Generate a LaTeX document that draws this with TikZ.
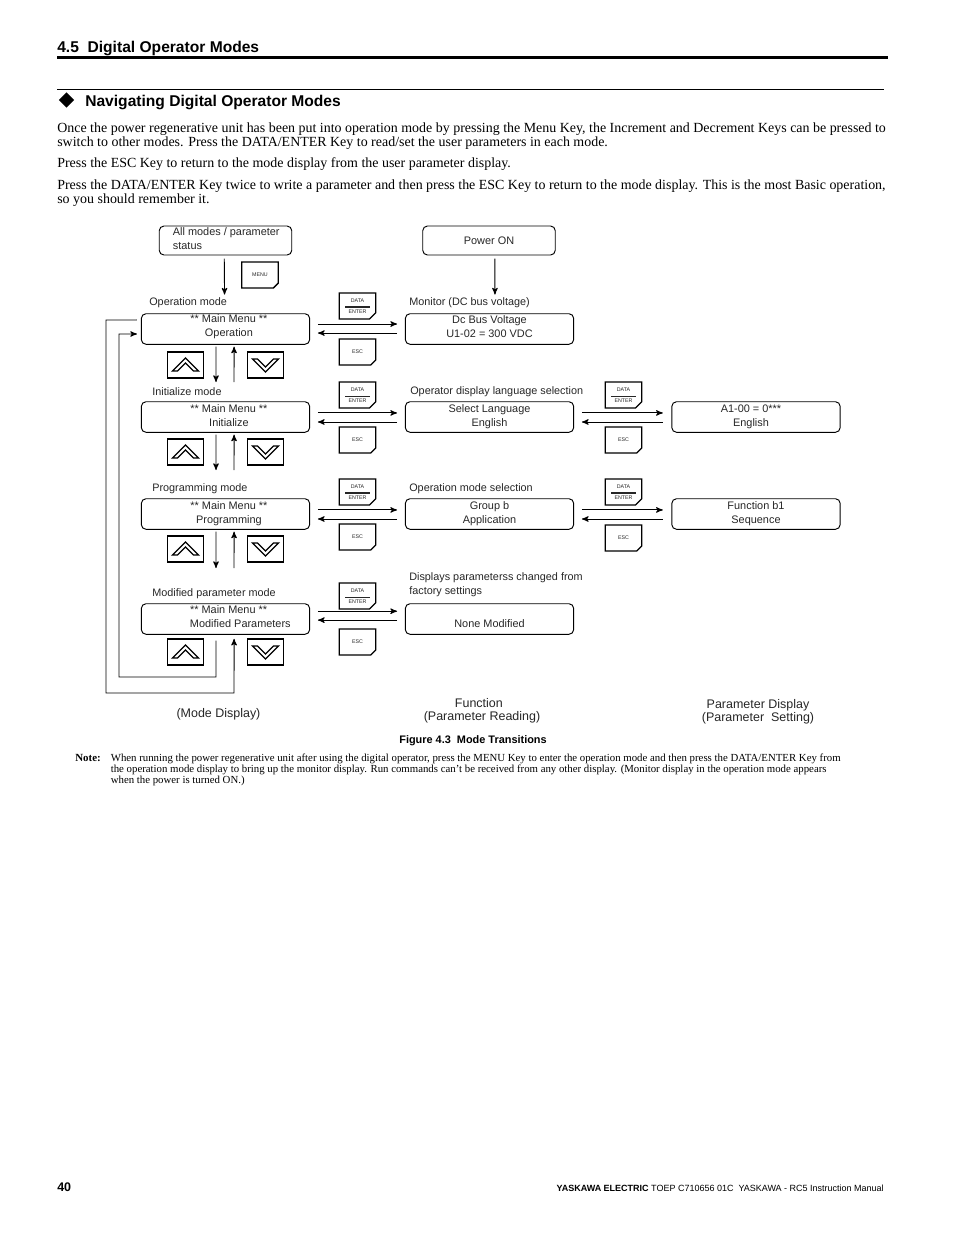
\documentclass[tikz,border=0pt]{standalone}
\usepackage{fontspec}
\setmainfont{Liberation Serif}
\setsansfont{Liberation Sans}
\usepackage{tikz}
\usetikzlibrary{%
  arrows,%
  calc,%
  shapes.geometric,%
  shapes.misc,%
  positioning}

\tikzset{
  flow/.style={->,>=stealth',line width=.6pt},
  dispbox/.style={rectangle,rounded corners=3pt,draw,line width=.6pt,minimum width=108pt,minimum height=19.6pt,inner sep=0pt},
  topbox/.style={dispbox,minimum width=85pt,minimum height=18.6pt},
  disptext/.style={font=\sffamily\fontsize{7}{9}\selectfont,align=center,text=black!85,inner sep=0pt},
  modetext/.style={font=\sffamily\fontsize{6.95}{9}\selectfont,align=left,anchor=west,inner sep=0pt,text=black!85},
  captext/.style={font=\sffamily\fontsize{8}{8.6}\selectfont,align=center,inner sep=0pt,text=black!85},
  keybox/.style={chamfered rectangle,chamfered rectangle corners=south east,chamfered rectangle sep=2pt,draw,line width=.8pt,minimum width=23.5pt,minimum height=16.7pt,inner sep=0pt,font=\sffamily\fontsize{3.4}{4}\selectfont,align=center,text=black!85},
  chevron/.style={draw,line width=.8pt},
  parline/.style={font=\fontsize{8.95}{9}\selectfont,align=left,anchor=north west,inner sep=0pt},
}
\newcommand{\dataenter}[1][.5pt]{DATA\\[-.4pt]\rule{16pt}{#1}\\[-.2pt]ENTER}
\newcommand{\upchevron}[1]{\draw[chevron] ([shift={(-13,6)}]#1.center) -- ([shift={(0,-7)}]#1.center) -- ([shift={(13,6)}]#1.center) -- ([shift={(8,6)}]#1.center) -- ([shift={(0,-2)}]#1.center) -- ([shift={(-8,6)}]#1.center) -- cycle;}
\newcommand{\downchevron}[1]{\draw[chevron] ([shift={(-13,-6)}]#1.center) -- ([shift={(0,7)}]#1.center) -- ([shift={(13,-6)}]#1.center) -- ([shift={(8,-6)}]#1.center) -- ([shift={(0,2)}]#1.center) -- ([shift={(-8,-6)}]#1.center) -- cycle;}

\begin{document}
\begin{tikzpicture}[x=0.6415pt,y=-0.6415pt]
\useasboundingbox (0,0) rectangle (954,1235);
% page head
\node (head) at (57,48) [anchor=west,inner sep=0pt,font=\sffamily\bfseries\fontsize{10}{12}\selectfont] {4.5\ \ Digital Operator Modes};
\coordinate (headl) at (57,57.5);
\coordinate (headr) at (888,57.5);
\draw[line width=2pt] (headl) -- (headr);
\coordinate (subl) at (57,89);
\coordinate (subr) at (884,89);
\draw[line width=.5pt] (subl) -- (subr);
\node (mark) at (66.5,100) [diamond,fill=black,minimum width=10pt,minimum height=10pt,inner sep=0pt] {};
\node (sub) at (85,102) [anchor=west,inner sep=0pt,font=\sffamily\bfseries\fontsize{10}{12}\selectfont] {Navigating Digital Operator Modes};
% paragraphs
\node (p1) at (57,122) [parline] {Once the power regenerative unit has been put into operation mode by pressing the Menu Key, the Increment and Decrement Keys can be pressed to\\switch to other modes. Press the DATA/ENTER Key to read/set the user parameters in each mode.};
\node (p2) at (57,157) [parline] {Press the ESC Key to return to the mode display from the user parameter display.};
\node (p3) at (57,179) [parline] {Press the DATA/ENTER Key twice to write a parameter and then press the ESC Key to return to the mode display. This is the most Basic operation,\\so you should remember it.};
% top row
\node (all) at (225.5,240.5) [topbox,label={[disptext,align=left,xshift=.5pt,yshift=1pt]center:{All modes / parameter\\status}}] {};
\node (pwr) at (489,240.5) [topbox,label={[disptext]center:Power ON}] {};
\node (kmenu) at (260,275) [keybox] {MENU};
% mode column
\node (op) at (225.5,329) [dispbox,label={[disptext,xshift=2.2pt,yshift=1.4pt]center:{** Main Menu **\\Operation}}] {};
\node (in) at (225.5,417) [dispbox,label={[disptext,xshift=2.2pt,yshift=.7pt]center:{** Main Menu **\\Initialize}}] {};
\node (pr) at (225.5,514) [dispbox,label={[disptext,xshift=2.2pt,yshift=.1pt]center:{** Main Menu **\\Programming}}] {};
\node (mo) at (225.5,619) [dispbox,label={[disptext,xshift=9.5pt,yshift=1.4pt]center:{\hspace*{-15pt}** Main Menu **\\Modified Parameters}}] {};
\node at (149,302.5) [modetext] (lop) {Operation mode};
\node at (152,391.5) [modetext] (lin) {Initialize mode};
\node at (152,488.5) [modetext] (lpr) {Programming mode};
\node at (152,593.5) [modetext] (lmo) {Modified parameter mode};
% function column
\node (mon) at (489.5,329) [dispbox,label={[disptext,yshift=1.4pt]center:{Dc Bus Voltage\\U1-02 = 300 VDC}}] {};
\node (sel) at (489.5,417) [dispbox,label={[disptext,yshift=.1pt]center:{Select Language\\English}}] {};
\node (grp) at (489.5,514) [dispbox,label={[disptext,yshift=.1pt]center:{Group b\\Application}}] {};
\node (non) at (489.5,619) [dispbox,label={[disptext,yshift=-3pt]center:None Modified}] {};
\node at (409,302.5) [modetext] (lmon) {Monitor (DC bus voltage)};
\node at (410,391.5) [modetext] (lsel) {Operator display language selection};
\node at (409,488.5) [modetext] (lgrp) {Operation mode selection};
\node at (409,584.5) [modetext] (lnon) {Displays parameterss changed from\\factory settings};
% parameter column
\node (par1) at (756,417) [dispbox,label={[disptext,xshift=-3.2pt,yshift=.1pt]center:{A1-00 = 0***\\English}}] {};
\node (par2) at (756,514) [dispbox,label={[disptext,yshift=.1pt]center:{Function b1\\Sequence}}] {};
% keys
\node (d1) at (357.5,306) [keybox] {\dataenter[.9pt]};
\node (e1) at (357.5,352) [keybox] {ESC};
\node (d2) at (357.5,395) [keybox] {\dataenter};
\node (e2) at (357.5,440) [keybox] {ESC};
\node (d3) at (357.5,492) [keybox] {\dataenter[.9pt]};
\node (e3) at (357.5,537) [keybox] {ESC};
\node (d4) at (357.5,596) [keybox] {\dataenter};
\node (e4) at (357.5,642) [keybox] {ESC};
\node (d5) at (623.5,395) [keybox] {\dataenter};
\node (e5) at (623.5,440) [keybox] {ESC};
\node (d6) at (623.5,492) [keybox] {\dataenter[.9pt]};
\node (e6) at (623.5,538) [keybox] {ESC};
% arrow keys
\node (u1) at (185.5,365) [keybox] {};
\node (v1) at (265.5,365) [keybox] {};
\node (u2) at (185.5,452) [keybox] {};
\node (v2) at (265.5,452) [keybox] {};
\node (u3) at (185.5,549) [keybox] {};
\node (v3) at (265.5,549) [keybox] {};
\node (u4) at (185.5,652) [keybox] {};
\node (v4) at (265.5,652) [keybox] {};
\upchevron{u1} \upchevron{u2} \upchevron{u3} \upchevron{u4}
\downchevron{v1} \downchevron{v2} \downchevron{v3} \downchevron{v4}
% top arrows
\draw[flow] ([xshift=-.8pt,yshift=-2pt]all.south) -- ([xshift=-.6pt,yshift=12pt]op.north);
\draw[flow] ([xshift=3.8pt,yshift=-2pt]pwr.south) -- ([xshift=3.5pt,yshift=12pt]mon.north);
% mode to mode
\coordinate (a1) at (216,382);
\coordinate (b1) at (234,382);
\draw[flow] ([xshift=-6.1pt,yshift=-1.2pt]op.south) -- (a1);
\draw[flow] (b1) -- ([xshift=5.5pt,yshift=-1.2pt]op.south);
\coordinate (a2) at (216,470);
\coordinate (b2) at (234,470);
\draw[flow] ([xshift=-6.1pt,yshift=-1.2pt]in.south) -- (a2);
\draw[flow] (b2) -- ([xshift=5.5pt,yshift=-1.2pt]in.south);
\coordinate (a3) at (216,568);
\coordinate (b3) at (234,568);
\draw[flow] ([xshift=-6.1pt,yshift=-1.2pt]pr.south) -- (a3);
\draw[flow] (b3) -- ([xshift=5.5pt,yshift=-1.2pt]pr.south);
% return lines
\coordinate (r1) at (216,677);
\coordinate (r2) at (119,677);
\coordinate (r3) at (119,334);
\draw[flow] ([xshift=-6.1pt,yshift=-3.8pt]mo.south) -- (r1) -- (r2) -- (r3) -- ([xshift=-2.5pt,yshift=-3.2pt]op.west);
\coordinate (s1) at (106,320);
\coordinate (s2) at (106,693);
\coordinate (s3) at (234,693);
\draw[flow] ([xshift=-2.5pt,yshift=5.8pt]op.west) -- (s1) -- (s2) -- (s3) -- ([xshift=5.5pt,yshift=-2.6pt]mo.south);
% across
\draw[flow] ([xshift=5pt,yshift=3.2pt]op.east) -- ([xshift=-5pt,yshift=3.2pt]mon.west);
\draw[flow] ([xshift=-5pt,yshift=-2.6pt]mon.west) -- ([xshift=5pt,yshift=-2.6pt]op.east);
\draw[flow] ([xshift=5pt,yshift=2.6pt]in.east) -- ([xshift=-5pt,yshift=2.6pt]sel.west);
\draw[flow] ([xshift=-5pt,yshift=-3.2pt]sel.west) -- ([xshift=5pt,yshift=-3.2pt]in.east);
\draw[flow] ([xshift=5pt,yshift=2.6pt]pr.east) -- ([xshift=-5pt,yshift=2.6pt]grp.west);
\draw[flow] ([xshift=-5pt,yshift=-3.2pt]grp.west) -- ([xshift=5pt,yshift=-3.2pt]pr.east);
\draw[flow] ([xshift=5pt,yshift=5pt]mo.east) -- ([xshift=-5pt,yshift=5pt]non.west);
\draw[flow] ([xshift=-5pt,yshift=-.7pt]non.west) -- ([xshift=5pt,yshift=-.7pt]mo.east);
\draw[flow] ([xshift=5pt,yshift=2.6pt]sel.east) -- ([xshift=-5.5pt,yshift=2.6pt]par1.west);
\draw[flow] ([xshift=-5.5pt,yshift=-3.2pt]par1.west) -- ([xshift=5pt,yshift=-3.2pt]sel.east);
\draw[flow] ([xshift=5pt,yshift=2.6pt]grp.east) -- ([xshift=-5.5pt,yshift=2.6pt]par2.west);
\draw[flow] ([xshift=-5.5pt,yshift=-3.2pt]par2.west) -- ([xshift=5pt,yshift=-3.2pt]grp.east);
% captions
\node (c1) at (218.5,714) [captext] {(Mode Display)};
\node (c2) at (482,711) [captext] {\hspace*{-4pt}Function\\(Parameter Reading)};
\node (c3) at (758,711.5) [captext] {Parameter Display\\(Parameter\ \ Setting)};
\node (fig) at (473,740.5) [inner sep=0pt,font=\sffamily\bfseries\fontsize{7}{9}\selectfont] {Figure 4.3\ \ Mode Transitions};
% note
\node (nt) at (75,754) [anchor=north west,inner sep=0pt,font=\bfseries\fontsize{7}{7}\selectfont] {Note:};
\node (ntx) at (110.5,754) [anchor=north west,inner sep=0pt,align=left,font=\fontsize{6.93}{7}\selectfont] {When running the power regenerative unit after using the digital operator, press the MENU Key to enter the operation mode and then press the DATA/ENTER Key from\\the operation mode display to bring up the monitor display. Run commands can’t be received from any other display. (Monitor display in the operation mode appears\\when the power is turned ON.)};
% foot
\node (pg) at (57,1187.5) [anchor=west,inner sep=0pt,font=\sffamily\bfseries\fontsize{8}{10}\selectfont] {40};
\node (ft) at (884,1188.5) [anchor=east,inner sep=0pt,font=\sffamily\fontsize{5.77}{8}\selectfont] {\textbf{YASKAWA ELECTRIC} TOEP C710656 01C\ \ YASKAWA - RC5 Instruction Manual};
\end{tikzpicture}
\end{document}
